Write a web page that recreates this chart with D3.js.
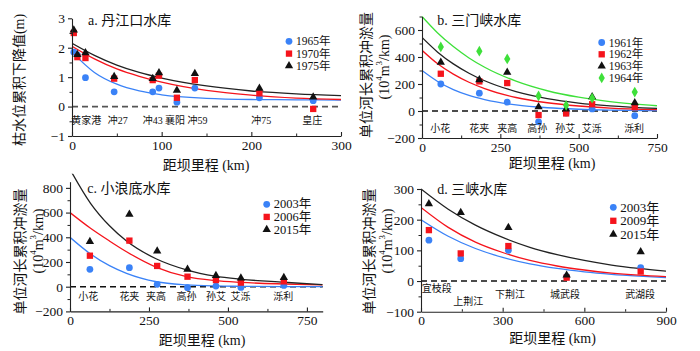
<!DOCTYPE html>
<html>
<head>
<meta charset="utf-8">
<script src="https://cdn.jsdelivr.net/npm/d3@7"></script>
<style>
  body { margin: 0; background: #fff; }
  svg text { font-family: "Liberation Serif", "Noto Sans CJK SC", serif; fill: #111; }
</style>
</head>
<body>
<svg id="chart" width="700" height="351"></svg>
<script>
// ---------- a. 丹江口水库 ----------
const aYears = ["1965年", "1970年", "1975年"];
const aPointKm = [2, 6, 15, 47, 90, 97, 117, 137, 209, 269];
const a1965 = [1.85, 1.75, 0.98, 0.5, 0.5, 0.63, 0.15, 0.63, 0.3, 0.2];
const a1970 = [2.5, 1.68, 1.65, 0.95, 0.9, 1.05, 0.3, 0.9, 0.45, -0.08];
const a1975 = [2.6, 1.77, 1.83, 1.02, 0.95, 1.15, 0.55, 1.12, 0.62, 0.32];
const aCurveKm = [0, 25, 50, 75, 100, 150, 200, 250, 300];
const a1965Fit = [1.85, 1.16, 0.76, 0.53, 0.40, 0.28, 0.24, 0.23, 0.22];
const a1970Fit = [2.05, 1.62, 1.28, 1.03, 0.83, 0.55, 0.39, 0.29, 0.24];
const a1975Fit = [2.15, 1.74, 1.41, 1.16, 0.97, 0.70, 0.53, 0.43, 0.37];
const aStations = ["黄家港", "冲27", "冲43", "襄阳", "冲59", "冲75", "皇庄"];
const aStationKm = [16, 51, 90, 115, 140, 211, 268];
const aXTicks = [0, 100, 200, 300], aXMinor = [50, 150, 250];
const aYTicks = [-1, 0, 1, 2, 3], aYMinor = [-0.5, 0.5, 1.5, 2.5];

// ---------- b. 三门峡水库 ----------
const bYears = ["1961年", "1962年", "1963年", "1964年"];
const bPointKm = [60, 183, 272, 372, 460, 543, 679];
const b1961 = [200, 132, 65, -80, -15, 15, -35];
const b1962 = [276, 219, 207, -30, -18, 50, 28];
const b1963 = [360, 231, 286, 30, 15, 105, 60];
const b1964 = [475, 443, 386, 112, 42, 95, 140];
const bCurveKm = [0, 50, 100, 150, 200, 300, 400, 500, 600, 750];
const b1961Fit = [300, 219, 159, 116, 85, 45, 24, 13, 7, 3];
const b1962Fit = [450, 350, 273, 213, 166, 100, 61, 37, 22, 11];
const b1963Fit = [545, 436, 349, 280, 224, 144, 92, 59, 38, 19];
const b1964Fit = [700, 578, 477, 393, 324, 221, 150, 102, 70, 39];
const bStations = ["小花", "花夹", "夹高", "高孙", "孙艾", "艾泺", "泺利"];
const bStationKm = [58, 183, 272, 368, 457, 542, 677];
const bXTicks = [0, 250, 500, 750], bXMinor = [125, 375, 625];
const bYTicks = [-200, 0, 200, 400, 600], bYMinor = [-100, 100, 300, 500, 700];

// ---------- c. 小浪底水库 ----------
const cYears = ["2003年", "2006年", "2015年"];
const cPointKm = [63, 188, 276, 372, 462, 541, 677];
const c2003 = [141, 154, 19, -8, 5, -6, 10];
const c2006 = [251, 373, 168, 81, 54, 33, 43];
const c2015 = [365, 586, 289, 141, 90, 70, 73];
const cCurveKm = [0, 65, 125, 179, 274, 369, 459, 541, 677, 800];
const c2003Fit = [400, 265, 170, 108, 40, 15, 6, 3, 1, 0];
const c2006Fit = [600, 473, 370, 283, 157, 81, 49, 35, 22, 14];
const c2015Fit = [950, 675, 493, 370, 224, 136, 85, 60, 36, 16];
const cStations = ["小花", "花夹", "夹高", "高孙", "孙艾", "艾泺", "泺利"];
const cStationKm = [58, 188, 272, 369, 462, 540, 675];
const cXTicks = [0, 250, 500, 750], cXMinor = [125, 375, 625];
const cYTicks = [-200, 0, 200, 400, 600, 800], cYMinor = [-100, 100, 300, 500, 700];

// ---------- d. 三峡水库 ----------
const dYears = ["2003年", "2009年", "2015年"];
const dPointKm = [29, 146, 321, 535, 807];
const d2003 = [133, 73, 100, 14, 44];
const d2009 = [166, 90, 114, 11, 31];
const d2015 = [252, 223, 174, 19, 95];
const dCurveKm = [0, 100, 200, 300, 400, 500, 600, 700, 800, 900];
const d2003Fit = [200, 146, 106, 77, 56, 41, 30, 22, 16, 11];
const d2009Fit = [240, 175, 127, 93, 67, 49, 36, 26, 19, 14];
const d2015Fit = [300, 234, 182, 142, 110, 86, 67, 52, 41, 32];
const dStations = ["宜枝段", "上荆江", "下荆江", "城武段", "武湖段"];
const dStationKm = [58, 174, 327, 529, 805];
const dXTicks = [0, 300, 600, 900], dXMinor = [150, 450, 750];
const dYTicks = [-100, 0, 100, 200, 300], dYMinor = [-50, 50, 150, 250];

const BLUE = "#3a82f7", RED = "#f5141c", BLACK = "#111", GREEN = "#3ee03a";
const shapes = { circle: d3.symbolCircle, square: d3.symbolSquare, triangle: d3.symbolTriangle, diamond: d3.symbolDiamond };
const shapeSize = { circle: 36, square: 40, triangle: 30, diamond: 34 };

const svg = d3.select("#chart");
svg.append("rect").attr("width", 700).attr("height", 351).attr("fill", "#fff");

const panels = [
  {
    title: "a. 丹江口水库", titlePos: [88, 20],
    box: { x0: 72, x1: 341, y0: 18.3, y1: 136 }, xDomain: [0, 300], yDomain: [-1, 3],
    xTicks: aXTicks, xMinor: aXMinor, yTicks: aYTicks, yMinor: aYMinor,
    yLabel: [{ text: "枯水位累积下降值(m)", x: 19, y: 80 }],
    xLabelPos: [206, 165],
    stations: aStations, stationKm: aStationKm, stationY: 120.7, stationDy: null,
    zeroColor: "#555",
    legend: { x: 289, y: 41.3, dy: 12.3, font: 11.5 },
    series: [
      { name: aYears[0], color: BLUE, shape: "circle", km: aPointKm, v: a1965, fit: a1965Fit },
      { name: aYears[1], color: RED, shape: "square", km: aPointKm, v: a1970, fit: a1970Fit },
      { name: aYears[2], color: BLACK, shape: "triangle", km: aPointKm, v: a1975, fit: a1975Fit }
    ], curveKm: aCurveKm
  },
  {
    title: "b. 三门峡水库", titlePos: [437.3, 20.7],
    box: { x0: 422, x1: 657, y0: 16.5, y1: 138 }, xDomain: [0, 750], yDomain: [-200, 700],
    xTicks: bXTicks, xMinor: bXMinor, yTicks: bYTicks, yMinor: bYMinor,
    yLabel: [{ text: "单位河长累积冲淤量", x: 366, y: 75 }, { unit: true, x: 384, y: 67 }],
    xLabelPos: [552, 163.3],
    stations: bStations, stationKm: bStationKm, stationY: 128.3, stationDy: null,
    zeroColor: "#111",
    legend: { x: 601.7, y: 42.5, dy: 11.8, font: 11.5 },
    series: [
      { name: bYears[0], color: BLUE, shape: "circle", km: bPointKm, v: b1961, fit: b1961Fit },
      { name: bYears[1], color: RED, shape: "square", km: bPointKm, v: b1962, fit: b1962Fit },
      { name: bYears[2], color: BLACK, shape: "triangle", km: bPointKm, v: b1963, fit: b1963Fit },
      { name: bYears[3], color: GREEN, shape: "diamond", km: bPointKm, v: b1964, fit: b1964Fit }
    ], curveKm: bCurveKm
  },
  {
    title: "c. 小浪底水库", titlePos: [87.3, 188.3],
    box: { x0: 70, x1: 322.7, y0: 181.7, y1: 311.4 }, xDomain: [0, 800], yDomain: [-200, 850],
    xTicks: cXTicks, xMinor: cXMinor, yTicks: cYTicks, yMinor: cYMinor,
    yLabel: [{ text: "单位河长累积冲淤量", x: 20, y: 251.5 }, { unit: true, x: 37.5, y: 241 }],
    xLabelPos: [202, 340],
    stations: cStations, stationKm: cStationKm, stationY: 296.7, stationDy: null,
    zeroColor: "#111",
    legend: { x: 266.7, y: 204.3, dy: 12.6, font: 12.5 },
    series: [
      { name: cYears[0], color: BLUE, shape: "circle", km: cPointKm, v: c2003, fit: c2003Fit },
      { name: cYears[1], color: RED, shape: "square", km: cPointKm, v: c2006, fit: c2006Fit },
      { name: cYears[2], color: BLACK, shape: "triangle", km: cPointKm, v: c2015, fit: c2015Fit }
    ], curveKm: cCurveKm
  },
  {
    title: "d. 三峡水库", titlePos: [437.3, 189],
    box: { x0: 421, x1: 666, y0: 189, y1: 311.7 }, xDomain: [0, 900], yDomain: [-100, 300],
    xTicks: dXTicks, xMinor: dXMinor, yTicks: dYTicks, yMinor: dYMinor,
    yLabel: [{ text: "单位河长累积冲淤量", x: 369, y: 251.5 }, { unit: true, x: 387, y: 241 }],
    xLabelPos: [552.5, 338.3],
    stations: dStations, stationKm: dStationKm, stationY: 294.3, stationDy: [-6, 6.7, 0, 0, 0],
    zeroColor: "#111",
    legend: { x: 613.3, y: 207.3, dy: 13.5, font: 13 },
    series: [
      { name: dYears[0], color: BLUE, shape: "circle", km: dPointKm, v: d2003, fit: d2003Fit },
      { name: dYears[1], color: RED, shape: "square", km: dPointKm, v: d2009, fit: d2009Fit },
      { name: dYears[2], color: BLACK, shape: "triangle", km: dPointKm, v: d2015, fit: d2015Fit }
    ], curveKm: dCurveKm
  }
];

const fmt = v => (v < 0 ? "\u2212" + Math.abs(v) : String(v));

panels.forEach((p, i) => {
  const b = p.box;
  const x = d3.scaleLinear().domain(p.xDomain).range([b.x0, b.x1]);
  const y = d3.scaleLinear().domain(p.yDomain).range([b.y1, b.y0]);
  const g = svg.append("g");

  // clip for curves (a little room above the axis top, like the original)
  g.append("clipPath").attr("id", "clip" + i)
    .append("rect").attr("x", b.x0).attr("y", b.y0 - 8)
    .attr("width", b.x1 - b.x0).attr("height", b.y1 - b.y0 + 8);

  // zero reference line
  g.append("line")
    .attr("x1", b.x0).attr("x2", b.x1)
    .attr("y1", y(0)).attr("y2", y(0))
    .attr("stroke", p.zeroColor).attr("stroke-width", 1.6)
    .attr("stroke-dasharray", "6,4");

  // fitted curves
  const line = d3.line().x(d => x(d[0])).y(d => y(d[1])).curve(d3.curveMonotoneX);
  p.series.forEach(s => {
    g.append("path")
      .datum(p.curveKm.map((k, j) => [k, s.fit[j]]))
      .attr("clip-path", `url(#clip${i})`)
      .attr("d", line)
      .attr("fill", "none")
      .attr("stroke", s.color === BLACK ? "#222" : s.color)
      .attr("stroke-width", 1.3);
  });

  // measured points
  p.series.forEach(s => {
    const sym = d3.symbol().type(shapes[s.shape]).size(shapeSize[s.shape]);
    g.selectAll(null)
      .data(s.km.map((k, j) => [k, s.v[j]]))
      .enter().append("path")
      .attr("d", sym)
      .attr("transform", d => `translate(${x(d[0])},${y(d[1])})`)
      .attr("fill", s.color);
  });

  // axes
  const xAxis = g.append("g").attr("transform", `translate(0,${b.y1})`)
    .call(d3.axisBottom(x).tickValues(p.xTicks).tickFormat(fmt).tickSizeInner(-4).tickSizeOuter(0).tickPadding(4));
  g.append("g").attr("transform", `translate(0,${b.y1})`)
    .call(d3.axisBottom(x).tickValues(p.xMinor).tickFormat("").tickSizeInner(-2.5).tickSizeOuter(0))
    .select(".domain").remove();
  const yAxis = g.append("g").attr("transform", `translate(${b.x0},0)`)
    .call(d3.axisLeft(y).tickValues(p.yTicks).tickFormat(fmt).tickSizeInner(4).tickSizeOuter(0).tickPadding(3));
  g.append("g").attr("transform", `translate(${b.x0},0)`)
    .call(d3.axisLeft(y).tickValues(p.yMinor).tickFormat("").tickSizeInner(2.5).tickSizeOuter(0))
    .select(".domain").remove();
  [xAxis, yAxis].forEach(ax => {
    ax.selectAll("text").attr("font-size", 13.5).attr("font-family", null).attr("fill", "#111");
    ax.selectAll("line, path").attr("stroke", "#222").attr("stroke-width", 1.1);
  });
  g.selectAll(".tick line").attr("stroke", "#222");

  // station labels
  p.stations.forEach((name, j) => {
    g.append("text")
      .attr("x", x(p.stationKm[j]))
      .attr("y", p.stationY + (p.stationDy ? p.stationDy[j] : 0))
      .attr("text-anchor", "middle").attr("dominant-baseline", "central")
      .attr("font-size", 10).attr("fill", "#222")
      .text(name);
  });

  // title
  g.append("text").attr("x", p.titlePos[0]).attr("y", p.titlePos[1])
    .attr("dominant-baseline", "central").attr("font-size", 14).text(p.title);

  // x label
  g.append("text").attr("x", p.xLabelPos[0]).attr("y", p.xLabelPos[1])
    .attr("text-anchor", "middle").attr("dominant-baseline", "central")
    .attr("font-size", 14).text("距坝里程 (km)");

  // y label(s)
  p.yLabel.forEach(l => {
    const t = g.append("text")
      .attr("transform", `translate(${l.x},${l.y}) rotate(-90)`)
      .attr("text-anchor", "middle").attr("dominant-baseline", "central")
      .attr("font-size", 14);
    if (l.unit) {
      t.append("tspan").text("(10");
      t.append("tspan").attr("dy", -5).attr("font-size", 9).text("4");
      t.append("tspan").attr("dy", 5).text("m");
      t.append("tspan").attr("dy", -5).attr("font-size", 9).text("3");
      t.append("tspan").attr("dy", 5).text("/km)");
    } else {
      t.text(l.text);
    }
  });

  // legend
  p.series.forEach((s, j) => {
    const ly = p.legend.y + j * p.legend.dy;
    g.append("path")
      .attr("d", d3.symbol().type(shapes[s.shape]).size(shapeSize[s.shape])())
      .attr("transform", `translate(${p.legend.x},${ly})`)
      .attr("fill", s.color);
    g.append("text").attr("x", p.legend.x + 7).attr("y", ly)
      .attr("dominant-baseline", "central").attr("font-size", p.legend.font).text(s.name);
  });
});
</script>
</body>
</html>
